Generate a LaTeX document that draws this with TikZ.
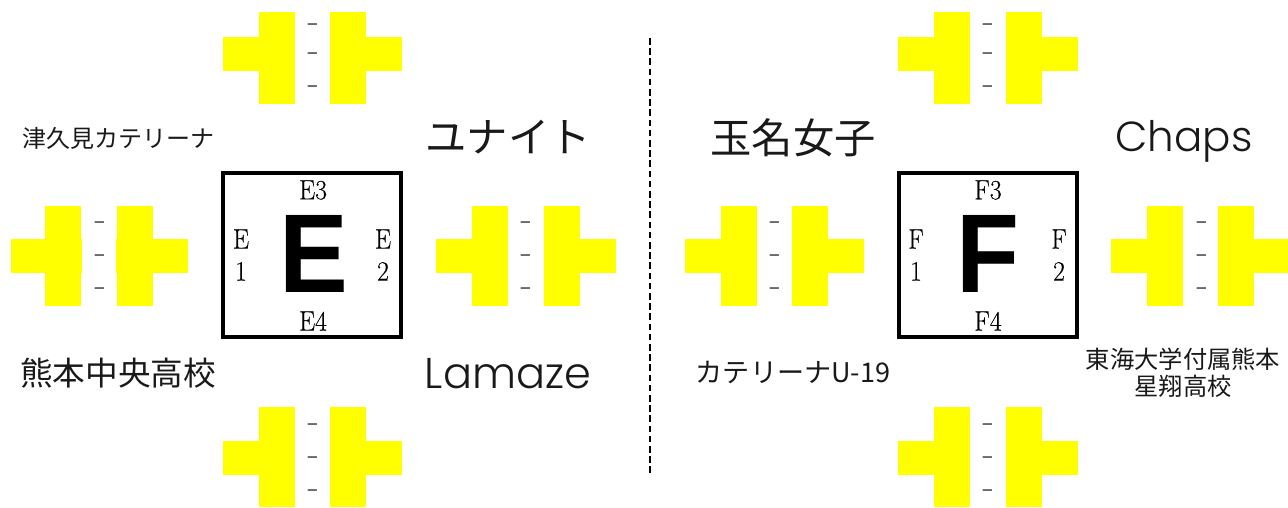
\documentclass[tikz,border=0pt]{standalone}
\usepackage{fontspec}
\setmainfont{Latin Modern Roman}
\newfontfamily\jp{Noto Sans CJK JP}
\newfontfamily\dashfont[FakeStretch=1.7]{Noto Sans CJK JP}
\newfontfamily\lat[UprightFont={* Light}]{Poppins}
\newfontfamily\hv[FakeStretch=0.92]{Liberation Sans}
\newfontfamily\mincho[FakeStretch=0.92,FakeBold=0.25]{Latin Modern Roman}
\definecolor{scoreyellow}{rgb}{1,1,0}
\tikzset{
  x=0.75pt,y=-0.75pt,
  fillbar/.style={fill=scoreyellow,draw=none},
  framebox/.style={draw=black,line width=3pt,fill=white,minimum width=136.5pt-3pt,minimum height=126pt-3pt,inner sep=0pt},
  scoredash/.style={font=\dashfont\fontsize{16}{16}\selectfont,text=black!75,inner sep=0pt,anchor=base,yshift=-4.4pt},
  team/.style={font=\jp,align=center,inner sep=0pt,text=black!90},
  letterbig/.style={font=\hv\bfseries\fontsize{84}{84}\selectfont,inner sep=0pt},
  boxlabel/.style={font=\mincho\fontsize{21}{24}\selectfont,inner sep=0pt,align=center},
}
\newcommand{\setdashes}[5]{%
  \node[scoredash] (#1a) at (#2,#3) {-};
  \node[scoredash] (#1b) at (#2,#4) {-};
  \node[scoredash] (#1c) at (#2,#5) {-};
}
\begin{document}
\begin{tikzpicture}
\useasboundingbox (0,0) rectangle (1288,507);
% E top
\fill[fillbar] (259,12) rectangle (295,104);
\fill[fillbar] (330,12) rectangle (366,104);
\fill[fillbar] (223,37) rectangle (259,71);
\fill[fillbar] (366,37) rectangle (402,71);
\setdashes{et}{313}{25}{54}{87}
% E left
\fill[fillbar] (45,206) rectangle (81,306);
\fill[fillbar] (117,206) rectangle (153,306);
\fill[fillbar] (11,239) rectangle (82,273);
\fill[fillbar] (116,239) rectangle (188,273);
\setdashes{el}{100}{223}{256}{289}
% E right
\fill[fillbar] (472,206) rectangle (508,306);
\fill[fillbar] (544,206) rectangle (580,306);
\fill[fillbar] (436,239) rectangle (472,273);
\fill[fillbar] (580,239) rectangle (616,273);
\setdashes{er}{526}{223}{256}{289}
% E bottom
\fill[fillbar] (259,407) rectangle (295,507);
\fill[fillbar] (330,407) rectangle (366,507);
\fill[fillbar] (223,441) rectangle (259,475);
\fill[fillbar] (366,441) rectangle (402,475);
\setdashes{eb}{313}{425}{458}{491}
% F top
\fill[fillbar] (934,12) rectangle (970,104);
\fill[fillbar] (1006,12) rectangle (1042,104);
\fill[fillbar] (898,37) rectangle (934,71);
\fill[fillbar] (1042,37) rectangle (1078,71);
\setdashes{ft}{988}{25}{54}{87}
% F left
\fill[fillbar] (721,206) rectangle (757,306);
\fill[fillbar] (792,206) rectangle (828,306);
\fill[fillbar] (685,239) rectangle (721,273);
\fill[fillbar] (828,239) rectangle (864,273);
\setdashes{fl}{775}{223}{256}{289}
% F right
\fill[fillbar] (1147,206) rectangle (1183,306);
\fill[fillbar] (1218,206) rectangle (1254,306);
\fill[fillbar] (1111,239) rectangle (1147,273);
\fill[fillbar] (1254,239) rectangle (1288,273);
\setdashes{fr}{1202}{223}{256}{289}
% F bottom
\fill[fillbar] (934,407) rectangle (970,507);
\fill[fillbar] (1006,407) rectangle (1042,507);
\fill[fillbar] (898,441) rectangle (934,475);
\fill[fillbar] (1042,441) rectangle (1078,475);
\setdashes{fb}{988}{425}{458}{491}
% centre line
\coordinate (lineA) at (650,38);
\coordinate (lineB) at (650,473);
\draw[black,line width=1.1pt,dash pattern=on 5pt off 2.65pt] (lineA) -- (lineB);
% boxes
\node[framebox] (boxE) at (312,255) {};
\node[framebox] (boxF) at (988,255) {};
\node[letterbig] (bigE) at (313.5,254) {E};
\node[letterbig] (bigF) at (988,254) {F};
\node[boxlabel] (e3) at (313,190) {E3};
\node[boxlabel] (e4) at (313,321) {E4};
\node[boxlabel] (e1) at (241,255) {E\\1};
\node[boxlabel] (e2) at (383,255) {E\\2};
\node[boxlabel] (f3) at (988,190) {F3};
\node[boxlabel] (f4) at (988,321) {F4};
\node[boxlabel] (f1) at (916,255) {F\\1};
\node[boxlabel] (f2) at (1059,255) {F\\2};
% teams
\node[team,font=\jp\fontsize{18}{18}\selectfont] (t1) at (118,138) {津久見カテリーナ};
\node[team,font=\jp\fontsize{31}{31}\selectfont] (t2) at (508,137) {ユナイト};
\node[team,font=\jp\fontsize{24.5}{24.5}\selectfont] (t3) at (118,373) {熊本中央高校};
\node[team,font=\lat\fontsize{32.3}{32.3}\selectfont] (t4) at (508,374) {Lamaze};
\node[team,font=\jp\fontsize{31}{31}\selectfont] (t5) at (793,138) {玉名女子};
\node[team,font=\lat\fontsize{31.5}{31.5}\selectfont] (t6) at (1184,141) {Chaps};
\node[team,font=\jp\fontsize{20.3}{20.3}\selectfont] (t7) at (793,372) {カテリーナU-19};
\node[team,font=\jp\fontsize{18.2}{20}\selectfont] (t8) at (1183,373) {東海大学付属熊本\\星翔高校};
\end{tikzpicture}
\end{document}
